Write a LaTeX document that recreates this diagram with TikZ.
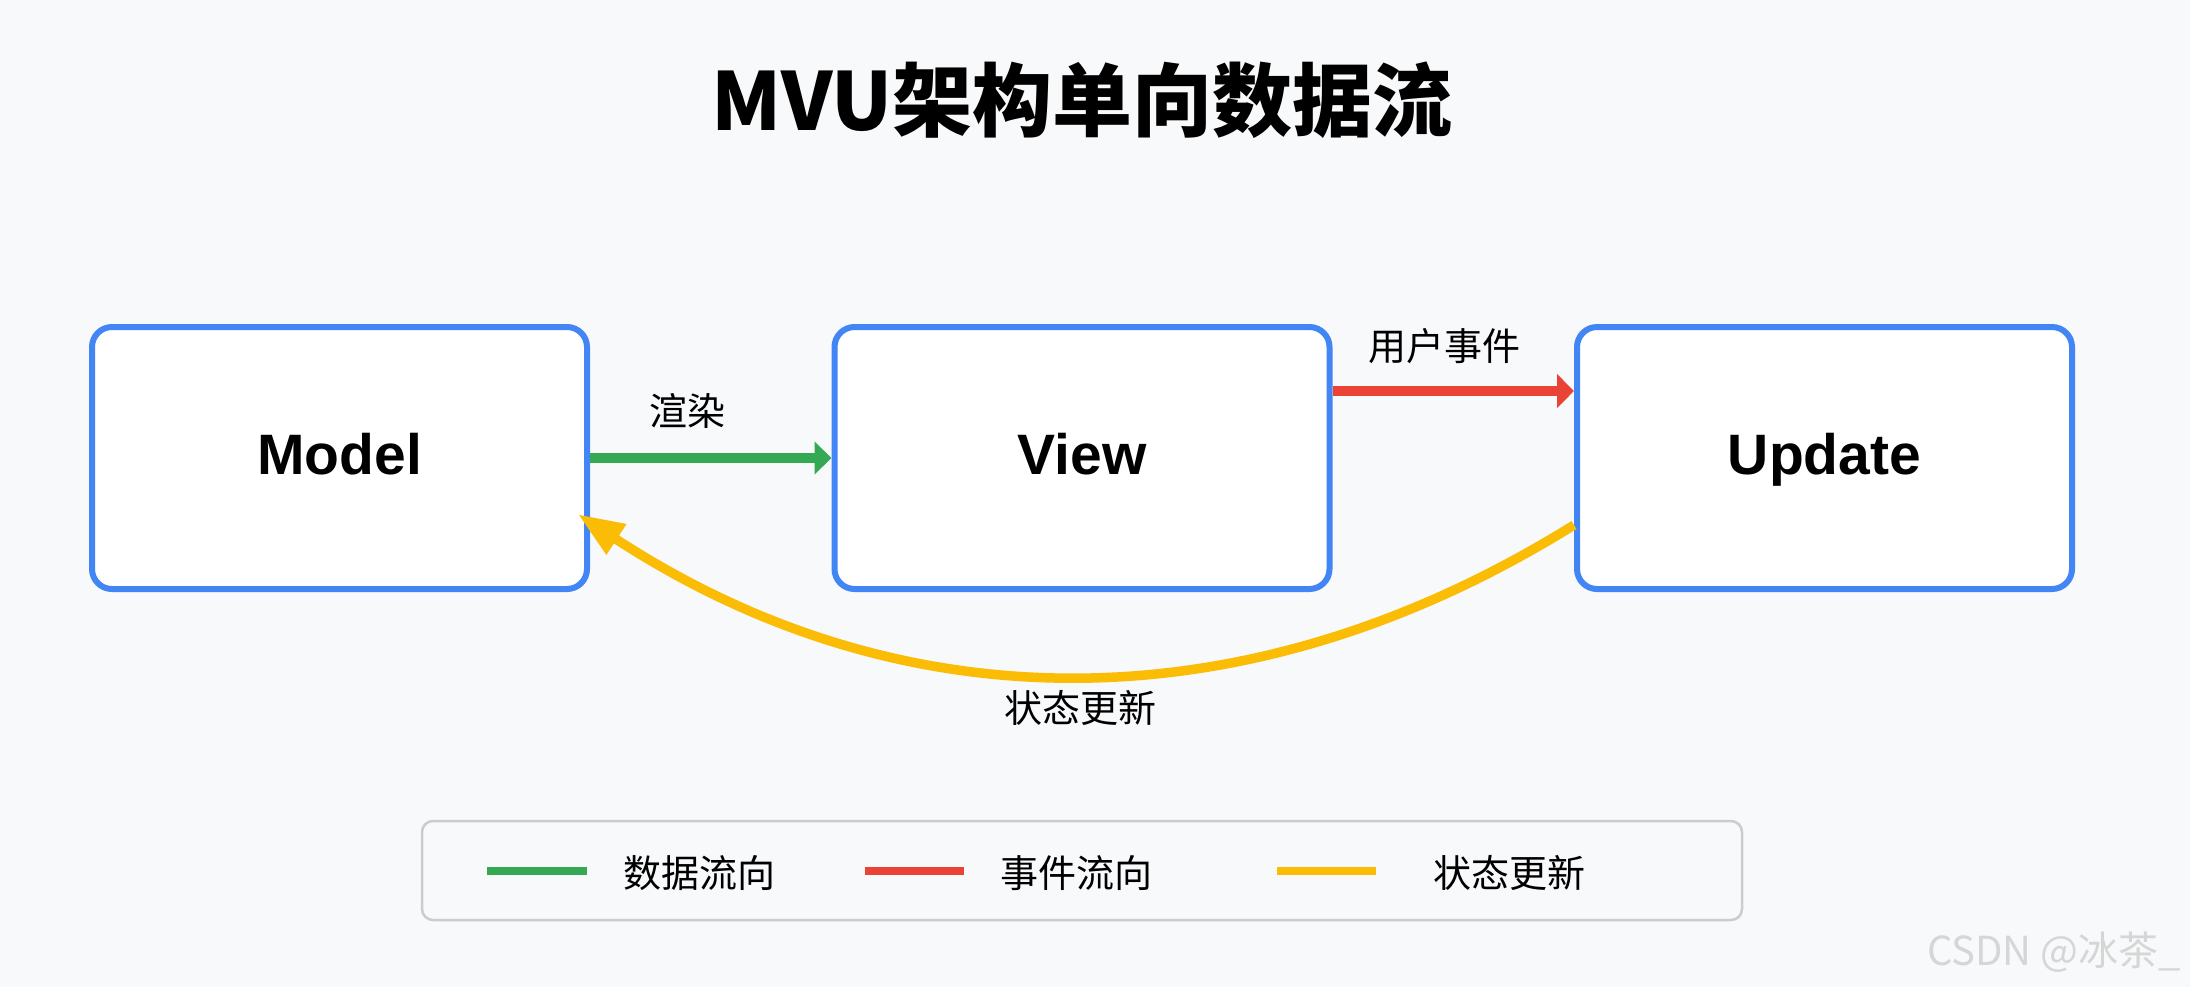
\documentclass[tikz,border=0pt]{standalone}
\usepackage{fontspec}
\setmainfont{Noto Sans CJK SC}
\newfontfamily\boxfont{Liberation Sans}
\usetikzlibrary{arrows.meta,positioning,calc}
\definecolor{bgcol}{HTML}{F8F9FA}
\definecolor{boxblue}{HTML}{4285F4}
\definecolor{flowgreen}{HTML}{34A853}
\definecolor{flowred}{HTML}{EA4335}
\definecolor{flowyellow}{HTML}{FBBC05}
\definecolor{legborder}{HTML}{CCCCCC}
\definecolor{markgray}{HTML}{D6D6D6}
\begin{document}
\begin{tikzpicture}[x=0.5pt,y=-0.5pt,
	box/.style={draw=boxblue,line width=3pt,fill=white,rounded corners=10pt,
		minimum width=247.5pt,minimum height=131pt,text height=20.5pt,text depth=3.6pt,
		font=\boxfont\bfseries\fontsize{28.5}{30}\selectfont},
	lbl/.style={font=\fontsize{19}{22}\selectfont},
	flow/.style={line width=4.75pt},
	legline/.style={line width=4pt}]
	\fill[bgcol] (0,0) rectangle (2190,987);
	\useasboundingbox (0,0) rectangle (2190,987);
	% title
	\node[font=\bfseries\fontsize{40}{44}\selectfont] (title) at (1082,100) {MVU架构单向数据流};
	% the three parts
	\node[box] (model) at (339.5,458) {Model};
	\node[box] (view) at (1082,458) {View};
	\node[box] (update) at (1824.5,458) {Update};
	% flows
	\draw[flow,flowgreen,-{Triangle[length=8.5pt,width=16pt]}] (model) -- (view);
	\node[lbl] (render) at (687,411) {渲染};
	\coordinate (evfrom) at ($(view.north east)!0.25!(view.south east)$);
	\coordinate (evto) at ($(update.north west)!0.25!(update.south west)$);
	\draw[flow,flowred,-{Triangle[length=8.5pt,width=16.5pt]}] (evfrom) -- (evto);
	\node[lbl] (event) at (1444,346) {用户事件};
	\coordinate (stfrom) at ($(update.north west)!0.75!(update.south west)$);
	\coordinate (stto) at ($(model.north east)!0.71!(model.south east)+(-6pt,0)$);
	\draw[flow,flowyellow,-{Triangle[length=23pt,width=17pt]}] (stfrom) .. controls (1251,726) and (905,728) .. (stto);
	\node[lbl] (state) at (1080,708) {状态更新};
	% legend
	\node[draw=legborder,line width=1.25pt,rounded corners=5.5pt,minimum width=660pt,minimum height=49.5pt] (legend) at (1082,870.5) {};
	\draw[legline,flowgreen] (487,871) -- (587,871);
	\node[lbl] (legdata) at (699,873) {数据流向};
	\draw[legline,flowred] (865,871) -- (964,871);
	\node[lbl] (legevent) at (1076,873) {事件流向};
	\draw[legline,flowyellow] (1277,871) -- (1376,871);
	\node[lbl] (legstate) at (1509,873) {状态更新};
	% watermark
	\node[anchor=east,text=markgray,font=\fontsize{20}{22}\selectfont] (mark) at (2188,952) {CSDN @冰茶\_};
\end{tikzpicture}
\end{document}
